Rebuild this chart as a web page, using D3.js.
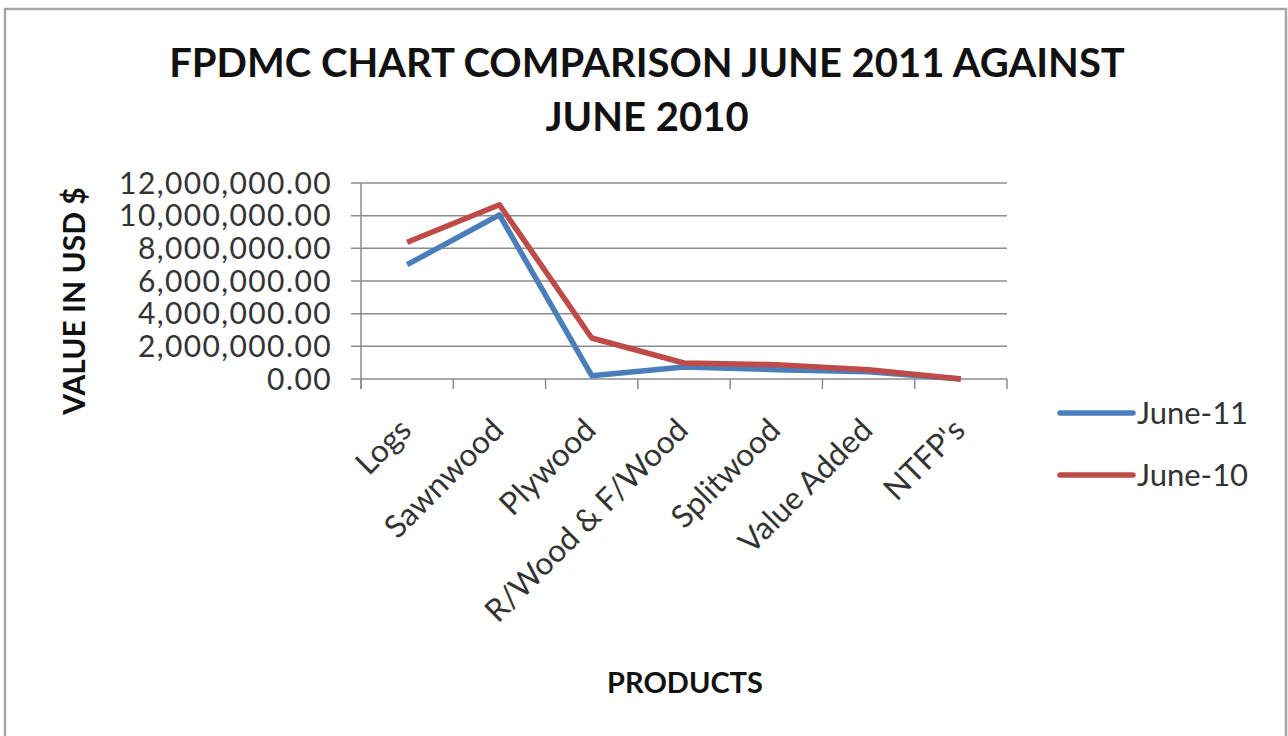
<!DOCTYPE html>
<html>
<head>
<meta charset="utf-8">
<script src="https://cdn.jsdelivr.net/npm/d3@7"></script>
<style>
  body { margin: 0; background: #fff; }
  svg { display: block; font-family: Lato, "Open Sans", sans-serif; }
</style>
</head>
<body>
<svg id="chart" width="1288" height="736"></svg>
<script>
// data
var products = ["Logs", "Sawnwood", "Plywood", "R/Wood & F/Wood", "Splitwood", "Value Added", "NTFP's"];
var june11 = [7000000, 10050000, 200000, 730000, 570000, 440000, 0];
var june10 = [8370000, 10670000, 2510000, 980000, 880000, 570000, 0];
var seriesNames = ["June-11", "June-10"];
var seriesColors = ["#4a7ebb", "#be4b48"];
var yTicks = [0, 2000000, 4000000, 6000000, 8000000, 10000000, 12000000];

var svg = d3.select("#chart");

// outer frame
svg.append("path")
    .attr("d", "M5,736 V9 H1286 V736")
    .attr("fill", "none")
    .attr("stroke", "#a6a6a6")
    .attr("stroke-width", 2.5);

var plotLeft = 361, plotRight = 1007, plotTop = 183, plotBottom = 379;

var x = d3.scaleBand().domain(products).range([plotLeft, plotRight]);
var y = d3.scaleLinear().domain([0, 12000000]).range([plotBottom, plotTop]);

// gridlines
svg.append("g")
    .selectAll("line")
    .data(yTicks)
    .enter()
    .append("line")
    .attr("x1", plotLeft - 10)
    .attr("x2", plotRight)
    .attr("y1", function (d) { return y(d); })
    .attr("y2", function (d) { return y(d); })
    .attr("stroke", "#8c8c8c")
    .attr("stroke-width", 1.5);

// y axis labels
var fmt = d3.format(",.2f");
svg.append("g")
    .selectAll("text")
    .data(yTicks)
    .enter()
    .append("text")
    .attr("x", 332)
    .attr("y", function (d) { return y(d); })
    .attr("dy", "0.36em")
    .attr("text-anchor", "end")
    .attr("font-size", 30)
    .attr("letter-spacing", 1.4)
    .attr("fill", "#333")
    .text(function (d) { return fmt(d); });

// axis lines
svg.append("line")
    .attr("x1", plotLeft).attr("x2", plotLeft)
    .attr("y1", plotTop).attr("y2", plotBottom + 10)
    .attr("stroke", "#8c8c8c").attr("stroke-width", 1.5);

var bounds = products.map(function (p) { return x(p); }).concat([plotRight]);
svg.append("g")
    .selectAll("line")
    .data(bounds)
    .enter()
    .append("line")
    .attr("x1", function (d) { return d; })
    .attr("x2", function (d) { return d; })
    .attr("y1", plotBottom)
    .attr("y2", plotBottom + 10)
    .attr("stroke", "#8c8c8c")
    .attr("stroke-width", 1.5);

// category labels, rotated
svg.append("g")
    .selectAll("text")
    .data(products)
    .enter()
    .append("text")
    .attr("transform", function (d) {
        return "translate(" + (x(d) + x.bandwidth() / 2 + 6) + "," + (plotBottom + 53) + ") rotate(-45)";
    })
    .attr("text-anchor", "end")
    .attr("font-size", 31.5)
    .attr("fill", "#333")
    .text(function (d) { return d; });

// lines
var line = d3.line()
    .x(function (d, i) { return x(products[i]) + x.bandwidth() / 2; })
    .y(function (d) { return y(d); });

[june11, june10].forEach(function (vals, i) {
    svg.append("path")
        .attr("d", line(vals))
        .attr("fill", "none")
        .attr("stroke", seriesColors[i])
        .attr("stroke-width", 5.5)
        .attr("stroke-linejoin", "round");
});

// legend
seriesNames.forEach(function (name, i) {
    var ly = 413 + i * 62;
    svg.append("line")
        .attr("x1", 1060).attr("x2", 1133)
        .attr("y1", ly).attr("y2", ly)
        .attr("stroke", seriesColors[i])
        .attr("stroke-width", 5.5)
        .attr("stroke-linecap", "round");
    svg.append("text")
        .attr("x", 1137)
        .attr("y", ly)
        .attr("dy", "0.36em")
        .attr("font-size", 31)
        .attr("fill", "#333")
        .text(name);
});

// titles
svg.append("text")
    .attr("x", 647).attr("y", 77)
    .attr("text-anchor", "middle")
    .attr("font-size", 40)
    .attr("font-weight", "bold")
    .attr("fill", "#111")
    .text("FPDMC CHART COMPARISON JUNE 2011 AGAINST");
svg.append("text")
    .attr("x", 647).attr("y", 131)
    .attr("text-anchor", "middle")
    .attr("font-size", 40)
    .attr("font-weight", "bold")
    .attr("fill", "#111")
    .text("JUNE 2010");

svg.append("text")
    .attr("transform", "translate(85,301) rotate(-90)")
    .attr("text-anchor", "middle")
    .attr("font-size", 30)
    .attr("font-weight", "bold")
    .attr("fill", "#111")
    .text("VALUE IN USD $");

svg.append("text")
    .attr("x", 685).attr("y", 693)
    .attr("text-anchor", "middle")
    .attr("font-size", 29)
    .attr("font-weight", "bold")
    .attr("fill", "#111")
    .text("PRODUCTS");
</script>
</body>
</html>
